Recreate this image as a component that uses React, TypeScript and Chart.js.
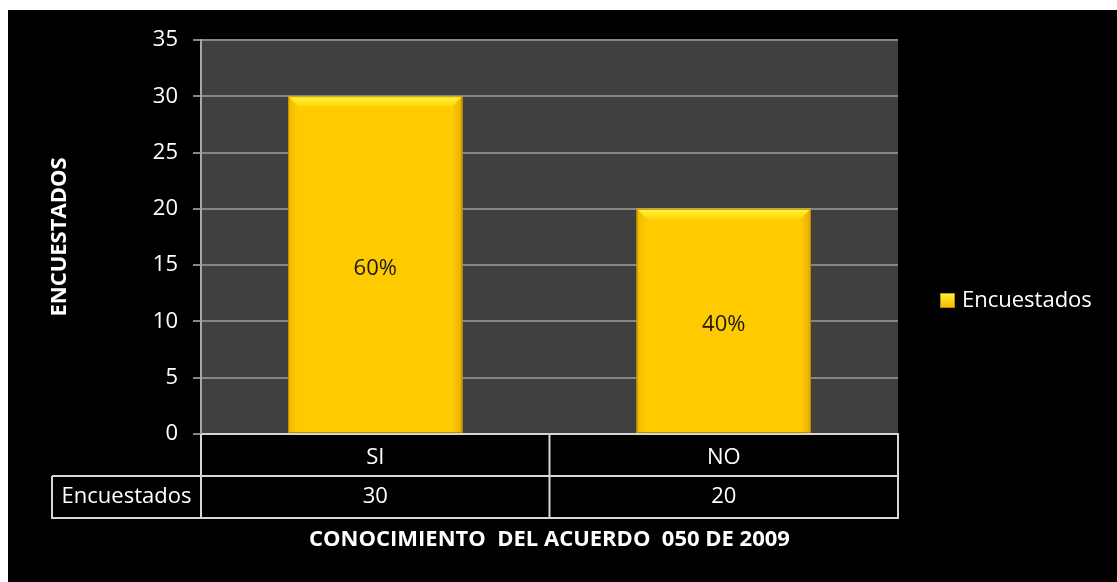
import { useEffect, useRef } from "react";
import { Chart, registerables } from "chart.js";

Chart.register(...registerables);

const categories = ["SI", "NO"];
const seriesName = "Encuestados";
const values = [30, 20];
const yMin = 0;
const yMax = 35;
const yStep = 5;
const xTitle = "CONOCIMIENTO  DEL ACUERDO  050 DE 2009";
const yTitle = "ENCUESTADOS";

const FONT = "'Open Sans', 'Noto Sans', sans-serif";
const FS = 22;
const W = 1109;
const H = 572;

const bgPlugin = {
  id: "bgPlugin",
  beforeDraw(chart: any) {
    const { ctx, chartArea } = chart;
    ctx.save();
    ctx.fillStyle = "#000000";
    ctx.fillRect(0, 0, chart.width, chart.height);
    ctx.fillStyle = "#404040";
    ctx.fillRect(chartArea.left, chartArea.top, chartArea.right - chartArea.left, chartArea.bottom - chartArea.top);
    ctx.restore();
  },
};

const bevelPlugin = {
  id: "bevelPlugin",
  afterDatasetsDraw(chart: any) {
    const { ctx } = chart;
    const meta = chart.getDatasetMeta(0);
    const total = values.reduce((a, b) => a + b, 0);
    meta.data.forEach((bar: any, i: number) => {
      const { x, y, base, width } = bar.getProps(["x", "y", "base", "width"], true);
      const x0 = x - width / 2;
      const x1 = x + width / 2;
      const top = y;
      const bottom = base;
      const b = 10;
      ctx.save();
      // top bevel
      const gT = ctx.createLinearGradient(0, top, 0, top + b);
      gT.addColorStop(0, "#FFF53C");
      gT.addColorStop(1, "#FFD80A");
      ctx.fillStyle = gT;
      ctx.beginPath();
      ctx.moveTo(x0, top);
      ctx.lineTo(x1, top);
      ctx.lineTo(x1 - b, top + b);
      ctx.lineTo(x0 + b, top + b);
      ctx.closePath();
      ctx.fill();
      // left bevel
      const gL = ctx.createLinearGradient(x0, 0, x0 + b, 0);
      gL.addColorStop(0, "#F0BA00");
      gL.addColorStop(1, "#FFCA00");
      ctx.fillStyle = gL;
      ctx.beginPath();
      ctx.moveTo(x0, top);
      ctx.lineTo(x0 + b, top + b);
      ctx.lineTo(x0 + b, bottom);
      ctx.lineTo(x0, bottom);
      ctx.closePath();
      ctx.fill();
      // right bevel
      const gR = ctx.createLinearGradient(x1 - b, 0, x1, 0);
      gR.addColorStop(0, "#FFCA00");
      gR.addColorStop(1, "#E3AC00");
      ctx.fillStyle = gR;
      ctx.beginPath();
      ctx.moveTo(x1, top);
      ctx.lineTo(x1 - b, top + b);
      ctx.lineTo(x1 - b, bottom);
      ctx.lineTo(x1, bottom);
      ctx.closePath();
      ctx.fill();
      // outline
      ctx.strokeStyle = "rgba(170,120,0,0.7)";
      ctx.lineWidth = 1;
      ctx.strokeRect(x0 + 0.5, top + 0.5, width - 1, bottom - top - 1);
      // label
      const pct = Math.round((values[i] / total) * 100) + "%";
      ctx.fillStyle = "#1a1a1a";
      ctx.font = `${FS}px ${FONT}`;
      ctx.textAlign = "center";
      ctx.textBaseline = "middle";
      ctx.fillText(pct, x, (top + bottom) / 2 + 4);
      ctx.restore();
    });
  },
};

const tablePlugin = {
  id: "tablePlugin",
  afterDraw(chart: any) {
    const { ctx, chartArea } = chart;
    const xs = chart.scales.x;
    const rowH = 42;
    const t0 = chartArea.bottom;
    const r1 = t0 + rowH;
    const r2 = t0 + 2 * rowH;
    const leftCol = 44;
    const n = categories.length;
    const colW = (chartArea.right - chartArea.left) / n;
    ctx.save();
    ctx.strokeStyle = "#d6d6d6";
    ctx.lineWidth = 2;
    const line = (ax: number, ay: number, bx: number, by: number) => {
      ctx.beginPath();
      ctx.moveTo(ax, ay);
      ctx.lineTo(bx, by);
      ctx.stroke();
    };
    for (let i = 0; i <= n; i++) {
      const xx = chartArea.left + i * colW;
      line(xx, t0, xx, r2 + 1);
    }
    line(leftCol, r1, chartArea.right + 1, r1);
    line(leftCol - 1, r2, chartArea.right + 1, r2);
    line(leftCol, r1, leftCol, r2);
    ctx.fillStyle = "#ffffff";
    ctx.font = `${FS}px ${FONT}`;
    ctx.textAlign = "center";
    ctx.textBaseline = "middle";
    ctx.fillText(seriesName, (leftCol + chartArea.left) / 2, (r1 + r2) / 2);
    values.forEach((v, i) => {
      ctx.fillText(String(v), xs.getPixelForValue(i), (r1 + r2) / 2);
    });

    // legend
    const lx = chartArea.right + 42;
    const ly = 283;
    const g = ctx.createLinearGradient(0, ly, 0, ly + 15);
    g.addColorStop(0, "#FFF03A");
    g.addColorStop(1, "#F0B800");
    ctx.fillStyle = g;
    ctx.fillRect(lx, ly, 15, 15);
    ctx.strokeStyle = "rgba(170,120,0,0.8)";
    ctx.lineWidth = 1;
    ctx.strokeRect(lx + 0.5, ly + 0.5, 14, 14);
    ctx.fillStyle = "#ffffff";
    ctx.textAlign = "left";
    ctx.fillText(seriesName, lx + 22, ly + 8);
    ctx.restore();
  },
};

export default function App() {
  const ref = useRef<HTMLCanvasElement>(null);
  useEffect(() => {
    if (!ref.current) return;
    const chart = new Chart(ref.current, {
      type: "bar",
      data: {
        labels: categories,
        datasets: [
          {
            label: seriesName,
            data: values,
            backgroundColor: "#FFCB00",
            borderWidth: 0,
            barPercentage: 0.5,
            categoryPercentage: 1,
          },
        ],
      },
      options: {
        responsive: false,
        animation: false,
        devicePixelRatio: 1,
        layout: { padding: { top: 30, right: 219, left: 0, bottom: 0 } },
        plugins: {
          legend: { display: false },
          tooltip: { enabled: false },
        },
        scales: {
          x: {
            afterFit: (s: any) => {
              s.height = 148;
            },
            grid: { display: false, drawTicks: false },
            border: { display: true, color: "#d6d6d6", width: 2 },
            ticks: {
              color: "#ffffff",
              font: { family: FONT, size: FS },
              padding: 11,
            },
            title: {
              display: true,
              text: xTitle,
              color: "#ffffff",
              font: { family: FONT, size: FS, weight: "bold" },
              padding: { top: 0, bottom: 29 },
            },
          },
          y: {
            min: yMin,
            max: yMax,
            afterFit: (s: any) => {
              s.width = 193;
            },
            ticks: {
              stepSize: yStep,
              color: "#ffffff",
              font: { family: FONT, size: FS },
              padding: 15,
            },
            grid: {
              color: "#868686",
              lineWidth: 2,
              tickLength: 8,
              tickColor: "#868686",
            },
            border: { display: true, color: "#a8a8a8", width: 2 },
            title: {
              display: true,
              text: yTitle,
              color: "#ffffff",
              font: { family: FONT, size: FS, weight: "bold" },
              padding: { top: 39, bottom: 0 },
            },
          },
        },
      },
      plugins: [bgPlugin, bevelPlugin, tablePlugin],
    });
    return () => chart.destroy();
  }, []);
  return (
    <div style={{ position: "fixed", left: 8, top: 10, width: W, height: H, background: "#000" }}>
      <canvas ref={ref} width={W} height={H} style={{ display: "block", width: W, height: H }} />
    </div>
  );
}
